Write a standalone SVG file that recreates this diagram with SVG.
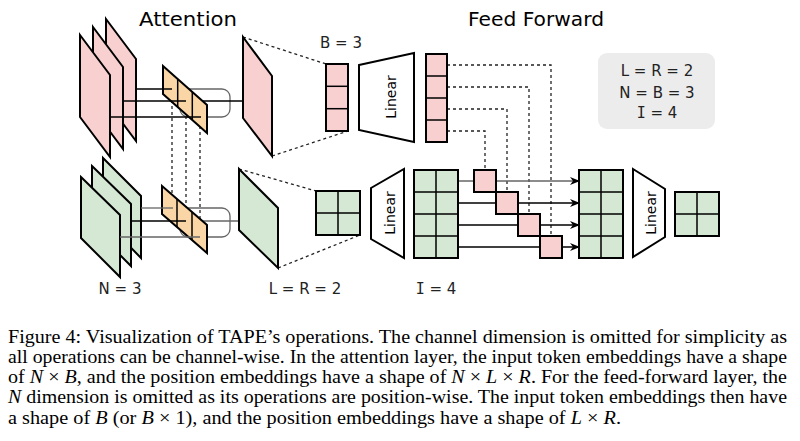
<svg xmlns="http://www.w3.org/2000/svg" width="800" height="441" viewBox="0 0 800 441">
<defs>
<style>
.pk{fill:#f8d0d0;stroke:#000;stroke-width:2;stroke-linejoin:miter}
.gr{fill:#d5e8d4;stroke:#000;stroke-width:2}
.or{fill:#fad5a5;stroke:#000;stroke-width:2}
.wt{fill:#fff;stroke:#000;stroke-width:2}
.ln{stroke:#000;stroke-width:1.5;fill:none}
.lg{stroke:#666;stroke-width:1.3;fill:none}
.dsh{stroke:#222;stroke-width:1.3;stroke-dasharray:3 3;fill:none}
.lbl{font-family:"DejaVu Sans",sans-serif;font-size:15px;fill:#222;text-anchor:middle}
.mono{font-family:"DejaVu Sans Mono",monospace}
.ttl{font-family:"DejaVu Sans",sans-serif;font-size:20px;fill:#000;text-anchor:middle}
.lin{font-family:"DejaVu Sans",sans-serif;font-size:14px;fill:#000;text-anchor:middle}
.cap{font-family:"Liberation Serif","Times New Roman",serif;font-size:18.5px;fill:#000}
.it{font-style:italic}
</style>
<marker id="arr" markerUnits="userSpaceOnUse" markerWidth="10" markerHeight="8" refX="9" refY="4" orient="auto">
<path d="M0,0 L10,4 L0,8 L3,4 z" fill="#000"/>
</marker>
</defs>
<rect width="800" height="441" fill="#fff"/>

<g id="titles">
<text class="ttl" x="188" y="26" textLength="98" lengthAdjust="spacingAndGlyphs">Attention</text>
<text class="ttl" x="536" y="26" textLength="136" lengthAdjust="spacingAndGlyphs">Feed Forward</text>
</g>

<g id="connectors">
<line class="dsh" x1="243" y1="37" x2="326" y2="64"/>
<line class="dsh" x1="272" y1="156" x2="348" y2="131"/>
<line class="dsh" x1="239" y1="169" x2="316" y2="191"/>
<line class="dsh" x1="278" y1="268" x2="360" y2="235"/>
<line class="dsh" x1="172" y1="100" x2="172" y2="200"/>
<line class="dsh" x1="186" y1="110" x2="186" y2="210"/>
<line class="dsh" x1="200" y1="120" x2="200" y2="222"/>
<path class="dsh" d="M447,65 H551 V236"/>
<path class="dsh" d="M447,87 H529 V214"/>
<path class="dsh" d="M447,109 H507 V192"/>
<path class="dsh" d="M447,131 H485 V170"/>
<line class="lg" x1="458" y1="181" x2="579" y2="181" marker-end="url(#arr)"/>
<line class="ln" x1="458" y1="203" x2="579" y2="203" marker-end="url(#arr)"/>
<line class="ln" x1="458" y1="225" x2="579" y2="225" marker-end="url(#arr)"/>
<line class="ln" x1="458" y1="247" x2="579" y2="247" marker-end="url(#arr)"/>
<rect class="lg" x="180" y="89" width="50" height="28" rx="8"/>
<line class="ln" x1="190" y1="101" x2="260" y2="101" marker-end="url(#arr)"/>
<rect class="lg" x="180" y="208" width="50" height="29" rx="8"/>
<line class="lg" x1="190" y1="221" x2="260" y2="221" marker-end="url(#arr)"/>
</g>

<g id="pink-stack">
<polygon class="pk" points="106,19 136,59 136,141 106,101"/>
<polygon class="pk" points="93,27 123,67 123,149 93,109"/>
<polygon class="pk" points="80,35 110,75 110,157 80,117"/>
</g>

<g id="green-stack">
<polygon class="gr" points="103,158 141,196 141,258 103,219"/>
<polygon class="gr" points="92,166 131,204 131,266 92,227"/>
<polygon class="gr" points="81,177 120,215 120,277 81,238"/>
</g>

<g id="orange-top">
<polygon class="or" points="163,66 207,105 207,133 163,94"/>
<line class="ln" x1="177.7" y1="79" x2="177.7" y2="107" stroke-width="2"/>
<line class="ln" x1="192.3" y1="92" x2="192.3" y2="120" stroke-width="2"/>
</g>
<g id="orange-bottom">
<polygon class="or" points="162,186 207,225 207,253 162,214"/>
<line class="ln" x1="177" y1="199" x2="177" y2="227" stroke-width="2"/>
<line class="ln" x1="192" y1="212" x2="192" y2="240" stroke-width="2"/>
</g>

<g id="stack-lines">
<line class="ln" x1="136" y1="89" x2="172" y2="89"/>
<line class="ln" x1="123" y1="101" x2="186" y2="101"/>
<line class="ln" x1="110" y1="117" x2="201" y2="117"/>
<line class="lg" x1="141" y1="208" x2="173" y2="208"/>
<line class="ln" x1="131" y1="221" x2="186" y2="221"/>
<line class="lg" x1="120" y1="237" x2="200" y2="237"/>
</g>

<g id="pink-plate">
<polygon class="pk" points="243,37 272,76 272,156 243,118"/>
</g>
<g id="green-plate">
<polygon class="gr" points="239,169 278,208 278,268 239,230"/>
</g>

<g id="b-column">
<text class="lbl" x="341" y="48">B = 3</text>
<rect class="pk" x="326" y="64" width="22" height="67"/>
<line class="ln" x1="326" y1="86.3" x2="348" y2="86.3" stroke-width="2"/>
<line class="ln" x1="326" y1="108.7" x2="348" y2="108.7" stroke-width="2"/>
</g>

<g id="linear-top">
<polygon class="wt" points="359,65 414,53 414,142 359,130"/>
<text class="lin" transform="translate(391,97) rotate(-90)" y="5">Linear</text>
</g>

<g id="i-column">
<rect class="pk" x="426" y="54" width="21" height="88"/>
<line class="ln" x1="426" y1="76" x2="447" y2="76" stroke-width="2"/>
<line class="ln" x1="426" y1="98" x2="447" y2="98" stroke-width="2"/>
<line class="ln" x1="426" y1="120" x2="447" y2="120" stroke-width="2"/>
</g>

<g id="lr-grid">
<rect class="gr" x="316" y="191" width="44" height="44"/>
<line class="ln" x1="338" y1="191" x2="338" y2="235" stroke-width="2"/>
<line class="ln" x1="316" y1="213" x2="360" y2="213" stroke-width="2"/>
</g>

<g id="linear-bottom">
<polygon class="wt" points="371,188 404,169 404,258 371,239"/>
<text class="lin" transform="translate(390,213) rotate(-90)" y="5">Linear</text>
</g>

<g id="i-grid">
<rect class="gr" x="414" y="170" width="44" height="88"/>
<line class="ln" x1="436" y1="170" x2="436" y2="258" stroke-width="2"/>
<line class="ln" x1="414" y1="192" x2="458" y2="192" stroke-width="2"/>
<line class="ln" x1="414" y1="214" x2="458" y2="214" stroke-width="2"/>
<line class="ln" x1="414" y1="236" x2="458" y2="236" stroke-width="2"/>
</g>

<g id="diag-squares">
<rect class="pk" x="474" y="170" width="22" height="22"/>
<rect class="pk" x="496" y="192" width="22" height="22"/>
<rect class="pk" x="518" y="214" width="22" height="22"/>
<rect class="pk" x="540" y="236" width="22" height="22"/>
</g>

<g id="out-grid">
<rect class="gr" x="579" y="170" width="44" height="88"/>
<line class="ln" x1="601" y1="170" x2="601" y2="258" stroke-width="2"/>
<line class="ln" x1="579" y1="192" x2="623" y2="192" stroke-width="2"/>
<line class="ln" x1="579" y1="214" x2="623" y2="214" stroke-width="2"/>
<line class="ln" x1="579" y1="236" x2="623" y2="236" stroke-width="2"/>
</g>

<g id="linear-right">
<polygon class="wt" points="633,169 665,189 665,237 633,257"/>
<text class="lin" transform="translate(651,213) rotate(-90)" y="5">Linear</text>
</g>

<g id="final-grid">
<rect class="gr" x="675" y="192" width="44" height="44"/>
<line class="ln" x1="697" y1="192" x2="697" y2="236" stroke-width="2"/>
<line class="ln" x1="675" y1="214" x2="719" y2="214" stroke-width="2"/>
</g>

<g id="info-box">
<rect x="598" y="53" width="117" height="76" rx="9" fill="#ececec"/>
<text class="lbl" x="657" y="76" font-size="16">L = R = 2</text>
<text class="lbl" x="657" y="98" font-size="16">N = B = 3</text>
<text class="lbl" x="657" y="118" font-size="16"><tspan class="mono">I</tspan> = 4</text>
</g>

<g id="labels">
<text class="lbl" x="120" y="294">N = 3</text>
<text class="lbl" x="305" y="294">L = R = 2</text>
<text class="lbl" x="436" y="294"><tspan class="mono">I</tspan> = 4</text>
</g>

<g id="caption">
<text class="cap" x="8" y="343" textLength="779" lengthAdjust="spacingAndGlyphs">Figure 4: Visualization of TAPE’s operations. The channel dimension is omitted for simplicity as</text>
<text class="cap" x="8" y="363" textLength="779" lengthAdjust="spacingAndGlyphs">all operations can be channel-wise. In the attention layer, the input token embeddings have a shape</text>
<text class="cap" x="8" y="383" textLength="779" lengthAdjust="spacingAndGlyphs">of <tspan class="it">N</tspan> × <tspan class="it">B</tspan>, and the position embeddings have a shape of <tspan class="it">N</tspan> × <tspan class="it">L</tspan> × <tspan class="it">R</tspan>. For the feed-forward layer, the</text>
<text class="cap" x="8" y="403" textLength="779" lengthAdjust="spacingAndGlyphs"><tspan class="it">N</tspan> dimension is omitted as its operations are position-wise. The input token embeddings then have</text>
<text class="cap" x="8" y="424" textLength="613" lengthAdjust="spacingAndGlyphs">a shape of <tspan class="it">B</tspan> (or <tspan class="it">B</tspan> × 1), and the position embeddings have a shape of <tspan class="it">L</tspan> × <tspan class="it">R</tspan>.</text>
</g>
</svg>
